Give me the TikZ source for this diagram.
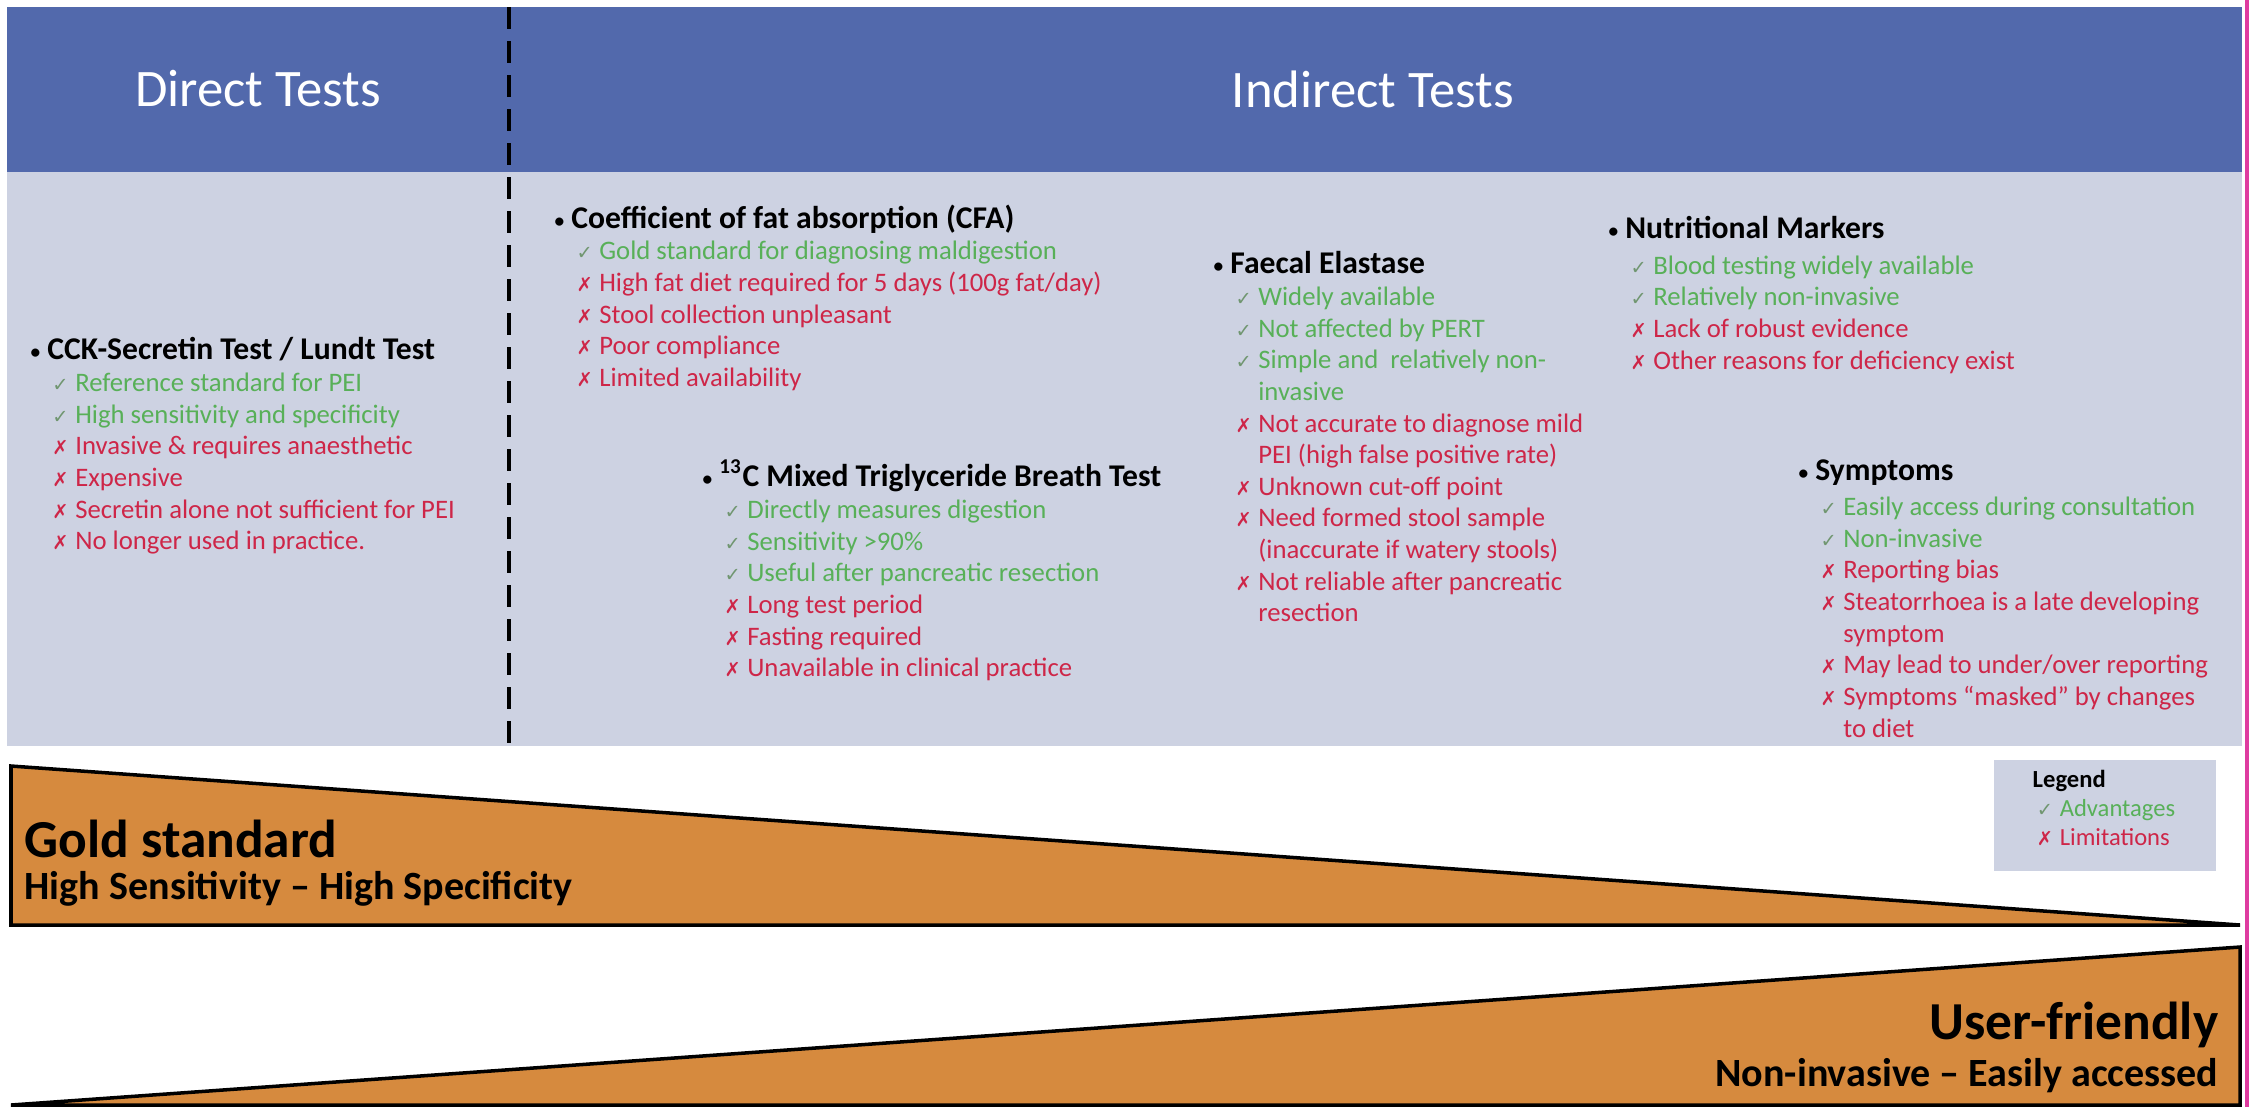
\documentclass[tikz,border=0pt]{standalone}
\usepackage{fontspec}
\setmainfont{Carlito}
\newfontfamily\symf{DejaVu Sans}

\definecolor{hdrblue}{RGB}{82,105,172}
\definecolor{panel}{RGB}{205,210,226}
\definecolor{gold}{RGB}{214,138,62}
\definecolor{proc}{RGB}{88,176,88}
\definecolor{tickc}{RGB}{112,150,112}
\definecolor{conc}{RGB}{206,38,72}
\definecolor{edgepink}{RGB}{222,60,160}

\newcommand{\itemind}{6.2pt}
\newcommand{\markw}{6.5pt}
\newcommand{\head}[1]{{\fontsize{9}{9}\selectfont\bfseries\raisebox{0.3pt}{\fontsize{5.5}{9}\selectfont\textbullet}\hspace{2pt}#1}}
\newcommand{\pro}[1]{\hspace*{\itemind}\makebox[\markw][l]{\color{tickc}\symf\fontsize{5.5}{9}\selectfont ✓}{\color{proc}#1}}
\newcommand{\con}[1]{\hspace*{\itemind}\makebox[\markw][l]{\color{conc}\symf\fontsize{5.5}{9}\selectfont ✗}{\color{conc}#1}}
\newcommand{\promore}[1]{\hspace*{\itemind}\hspace*{\markw}{\color{proc}#1}}
\newcommand{\conmore}[1]{\hspace*{\itemind}\hspace*{\markw}{\color{conc}#1}}

\tikzset{
  block/.style={anchor=north west, inner sep=0, align=left, font=\fontsize{#1}{9}\selectfont},
  block/.default=7.6,
  bigtext/.style={inner sep=0, font=\fontsize{15.2}{18}\selectfont\bfseries},
  subtext/.style={inner sep=0, font=\fontsize{11.4}{13}\selectfont\bfseries}
}

\begin{document}
\begin{tikzpicture}
        \useasboundingbox (0,0) rectangle (22.49,-11.07);
        \fill[white] (0,0) rectangle (22.49,-11.07);

        % header and panel
        \fill[hdrblue] (0.07,-0.07) rectangle (22.42,-1.72);
        \fill[panel] (0.07,-1.72) rectangle (22.42,-7.46);
        \draw[line width=1.3pt, dash pattern=on 0.22cm off 0.12cm] (5.09,-0.07) -- (5.09,-7.46);
        \node[text=white, font=\fontsize{15}{18}\selectfont] (direct) at (2.58,-0.89) {Direct Tests};
        \node[text=white, font=\fontsize{15}{18}\selectfont] (indirect) at (13.73,-0.89) {Indirect Tests};

        \node[block] (cck) at (0.30,-3.37) {\head{CCK-Secretin Test / Lundt Test}\\
            \pro{Reference standard for PEI}\\
            \pro{High sensitivity and specificity}\\
            \con{Invasive \& requires anaesthetic}\\
            \con{Expensive}\\
            \con{Secretin alone not sufficient for PEI}\\
            \con{No longer used in practice.}};

        \node[block] (cfa) at (5.54,-2.04) {\head{Coefficient of fat absorption (CFA)}\\
            \pro{Gold standard for diagnosing maldigestion}\\
            \con{High fat diet required for 5 days (100g fat/day)}\\
            \con{Stool collection unpleasant}\\
            \con{Poor compliance}\\
            \con{Limited availability}};

        \node[block] (breath) at (7.02,-4.59) {\head{\textsuperscript{13}C Mixed Triglyceride Breath Test}\\
            \pro{Directly measures digestion}\\
            \pro{Sensitivity >90\%}\\
            \pro{Useful after pancreatic resection}\\
            \con{Long test period}\\
            \con{Fasting required}\\
            \con{Unavailable in clinical practice}};

        \node[block] (elastase) at (12.13,-2.51) {\head{Faecal Elastase}\\
            \pro{Widely available}\\
            \pro{Not affected by PERT}\\
            \pro{Simple and \ relatively non-}\\
            \promore{invasive}\\
            \con{Not accurate to diagnose mild}\\
            \conmore{PEI (high false positive rate)}\\
            \con{Unknown cut-off point}\\
            \con{Need formed stool sample}\\
            \conmore{(inaccurate if watery stools)}\\
            \con{Not reliable after pancreatic}\\
            \conmore{resection}};

        \node[block] (markers) at (16.08,-2.16) {\head{Nutritional Markers}\\[1pt]
            \pro{Blood testing widely available}\\
            \pro{Relatively non-invasive}\\
            \con{Lack of robust evidence}\\
            \con{Other reasons for deficiency exist}};

        \node[block] (symptoms) at (17.98,-4.59) {\head{Symptoms}\\[1pt]
            \pro{Easily access during consultation}\\
            \pro{Non-invasive}\\
            \con{Reporting bias}\\
            \con{Steatorrhoea is a late developing}\\
            \conmore{symptom}\\
            \con{May lead to under/over reporting}\\
            \con{Symptoms ``masked'' by changes}\\
            \conmore{to diet}};

        % legend
        \fill[panel] (19.94,-7.60) rectangle (22.16,-8.71);
        \node[block, font=\fontsize{7}{8.2}\selectfont] (legend) at (20.32,-7.70) {\textbf{Legend}\\
            \hspace*{-5pt}\pro{Advantages}\\
            \hspace*{-5pt}\con{Limitations}};

        % wedges
        \draw[line width=1pt, fill=gold] (0.11,-7.66) -- (0.11,-9.25) -- (22.40,-9.25) -- cycle;
        \draw[line width=1pt, fill=gold] (0.11,-11.05) -- (22.40,-9.47) -- (22.40,-11.05) -- cycle;
        \node[bigtext, anchor=west] (gold) at (0.24,-8.39) {Gold standard};
        \node[subtext, anchor=west] (goldsub) at (0.24,-8.89) {High Sensitivity -- High Specificity};
        \node[bigtext, anchor=east] (user) at (22.19,-10.25) {User-friendly};
        \node[subtext, anchor=east] (usersub) at (22.19,-10.76) {Non-invasive -- Easily accessed};

        \fill[edgepink] (22.45,0) rectangle (22.49,-11.07);
\end{tikzpicture}
\end{document}
